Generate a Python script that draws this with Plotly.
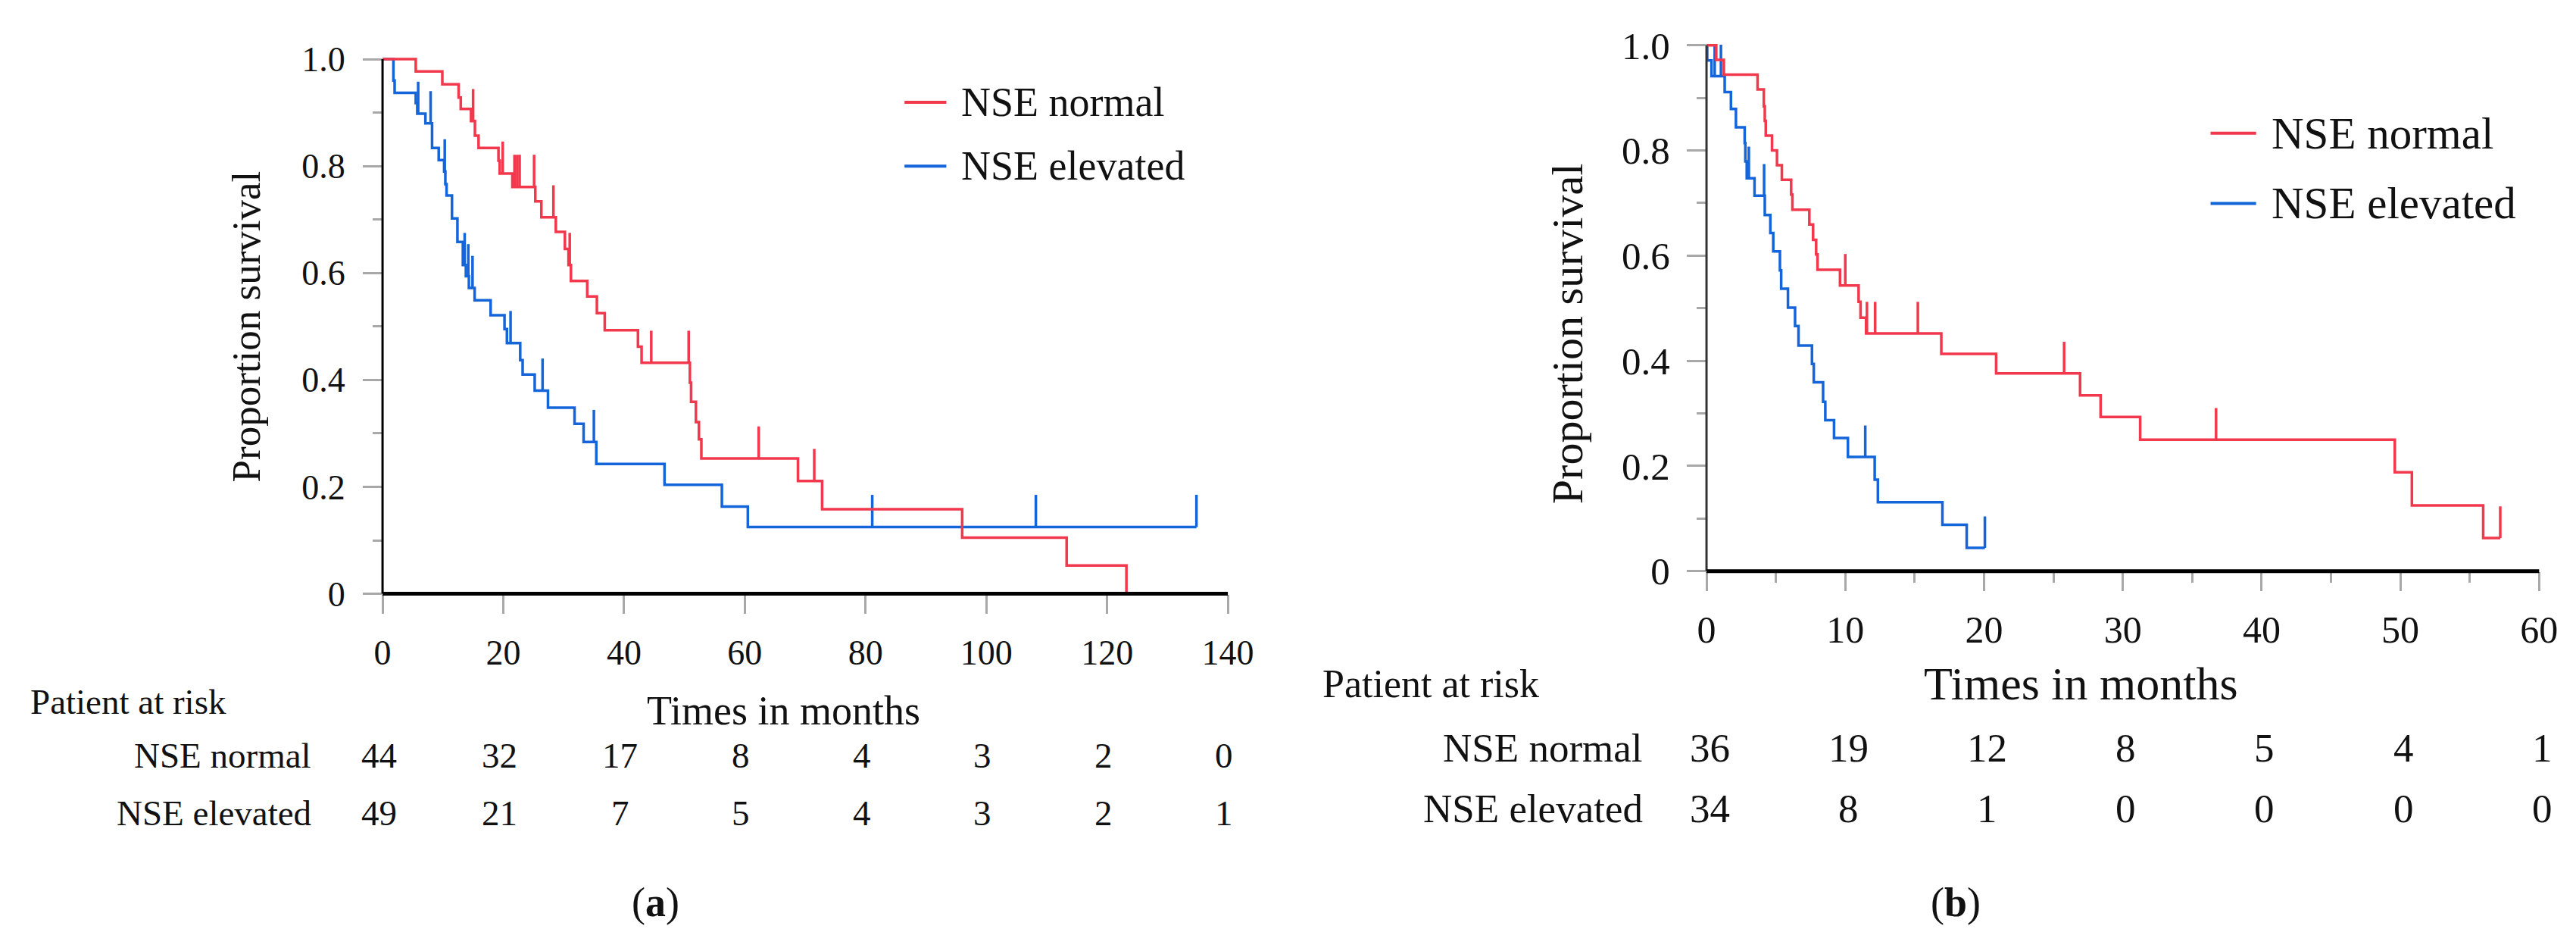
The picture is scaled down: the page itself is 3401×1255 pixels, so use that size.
import plotly.graph_objects as go

W, H = 3401, 1255
FONT = "Liberation Serif"
RED = "#F2384C"
BLUE = "#1565DA"
TICKGREY = "#A8A8A8"

# ---------------- Panel (a) data ----------------
a_norm_times = [5.5, 9.9, 12.6, 12.95, 14.65, 15.3, 15.9, 19.2, 19.4, 21.5, 25.3, 26.3, 28.7,
                30.2, 30.8, 31.2, 33.9, 35.5, 36.8, 42.3, 42.9, 50.9, 51.1, 51.9, 52.4, 52.8,
                68.8, 72.8, 96.0, 113.3, 123.2]
a_norm_surv = [0.977, 0.953, 0.928, 0.907, 0.884, 0.857, 0.834, 0.81, 0.786, 0.761, 0.734, 0.704, 0.677,
               0.645, 0.615, 0.585, 0.556, 0.525, 0.493, 0.462, 0.432, 0.395, 0.359, 0.321, 0.289, 0.253,
               0.211, 0.158, 0.105, 0.053, 0.0]
a_norm_censor = [15.0, 19.9, 21.85, 22.3, 22.7, 25.1, 28.3, 31.0, 44.5, 50.7, 62.3, 71.5]
a_norm_end = 123.2

a_elev_times = [1.8, 2.0, 5.5, 5.75, 7.1, 8.2, 9.3, 10.2, 10.4, 10.6, 11.5, 12.4, 13.3, 13.8, 14.3,
                15.25, 17.9, 20.2, 20.6, 22.8, 23.2, 25.2, 27.4, 31.8, 33.3, 35.4, 46.7, 56.2, 60.5]
a_elev_surv = [0.960, 0.937, 0.918, 0.898, 0.880, 0.834, 0.811, 0.790, 0.766, 0.745, 0.702, 0.658, 0.615,
               0.594, 0.572, 0.549, 0.521, 0.495, 0.469, 0.437, 0.410, 0.380, 0.348, 0.318, 0.284, 0.243,
               0.204, 0.163, 0.125]
a_elev_censor = [5.9, 7.96, 10.3, 13.6, 14.2, 14.9, 21.2, 26.5, 35.0, 81.1, 108.2, 134.8]
a_elev_end = 134.8

a_risk_times = [0, 20, 40, 60, 80, 100, 120, 140]
a_risk_norm = [44, 32, 17, 8, 4, 3, 2, 0]
a_risk_elev = [49, 21, 7, 5, 4, 3, 2, 1]
a_xticks = [0, 20, 40, 60, 80, 100, 120, 140]

# ---------------- Panel (b) data ----------------
b_norm_times = [0.7, 1.25, 3.68, 4.13, 4.2, 4.27, 4.72, 5.08, 5.43, 6.1, 6.19, 7.41, 7.68, 7.9, 8.0,
                9.62, 10.96, 11.1, 11.5, 16.92, 20.87, 26.92, 28.4, 31.25, 49.6, 50.83, 55.97]
b_norm_surv = [0.972, 0.944, 0.916, 0.884, 0.856, 0.828, 0.800, 0.772, 0.744, 0.716, 0.687, 0.659, 0.630,
               0.602, 0.573, 0.543, 0.512, 0.482, 0.452, 0.413, 0.376, 0.334, 0.293, 0.250, 0.188, 0.125,
               0.063]
b_norm_censor = [10.0, 11.56, 12.15, 15.23, 25.77, 36.72, 57.2]
b_norm_end = 57.2

b_elev_times = [0.05, 0.36, 1.31, 1.76, 2.12, 2.75, 2.8, 2.9, 3.46, 4.2, 4.6, 4.81, 5.29, 5.38, 5.87,
                6.38, 6.63, 7.60, 7.73, 8.40, 8.56, 9.19, 10.19, 12.12, 12.35, 17.0, 18.75]
b_elev_surv = [0.971, 0.941, 0.911, 0.879, 0.844, 0.814, 0.779, 0.747, 0.714, 0.677, 0.643, 0.608, 0.572,
               0.537, 0.501, 0.466, 0.429, 0.394, 0.359, 0.322, 0.287, 0.253, 0.217, 0.174, 0.131, 0.088,
               0.044]
b_elev_censor = [0.59, 1.04, 3.05, 4.15, 11.44, 20.06]
b_elev_end = 20.06

b_risk_times = [0, 10, 20, 30, 40, 50, 60]
b_risk_norm = [36, 19, 12, 8, 5, 4, 1]
b_risk_elev = [34, 8, 1, 0, 0, 0, 0]
b_xticks = [0, 10, 20, 30, 40, 50, 60]

y_tickvals = [0, 0.2, 0.4, 0.6, 0.8, 1.0]
y_ticktext = ["0", "0.2", "0.4", "0.6", "0.8", "1.0"]
group_names = ["NSE normal", "NSE elevated"]

CENSOR_H = 0.06


def step_xy(times, surv, end):
    x = [0] + list(times)
    y = [1.0] + list(surv)
    if end > x[-1]:
        x.append(end)
        y.append(y[-1])
    return x, y


def level_at(times, surv, t):
    s = 1.0
    for ti, si in zip(times, surv):
        if ti <= t:
            s = si
        else:
            break
    return s


def censor_xy(times, surv, ctimes):
    xs, ys = [], []
    for c in ctimes:
        s = level_at(times, surv, c)
        xs += [c, c, None]
        ys += [s, s + CENSOR_H, None]
    return xs, ys


fig = go.Figure()


def add_curves(times, surv, ctimes, end, color, xa, ya):
    x, y = step_xy(times, surv, end)
    fig.add_trace(go.Scatter(x=x, y=y, mode="lines", line=dict(color=color, width=3.5, shape="hv"),
                             xaxis=xa, yaxis=ya, showlegend=False, hoverinfo="skip"))
    cx, cy = censor_xy(times, surv, ctimes)
    fig.add_trace(go.Scatter(x=cx, y=cy, mode="lines", line=dict(color=color, width=3.5),
                             xaxis=xa, yaxis=ya, showlegend=False, hoverinfo="skip"))


add_curves(a_elev_times, a_elev_surv, a_elev_censor, a_elev_end, BLUE, "x", "y")
add_curves(a_norm_times, a_norm_surv, a_norm_censor, a_norm_end, RED, "x", "y")
add_curves(b_elev_times, b_elev_surv, b_elev_censor, b_elev_end, BLUE, "x2", "y2")
add_curves(b_norm_times, b_norm_surv, b_norm_censor, b_norm_end, RED, "x2", "y2")

YTOP = 1.02

# pixel geometry of plot areas
A_X0, A_X1, A_Y0, A_Y1 = 491, 1623, 789, 59     # x=0, x=140, y=0, y=1.0
B_X0, B_X1, B_Y0, B_Y1 = 2264, 3379, 758, 40    # x=0, x=60, y=0, y=1.0


def px(x):
    return x / W


def py(y):
    return 1 - y / H


def ydom(y0, y1):
    top = y0 - (y0 - y1) * YTOP
    return [py(y0), py(top)]


def xaxis_cfg(dom, rng, ticks, size, minor=None, standoff=10):
    d = dict(domain=dom, range=rng, tickmode="array", tickvals=ticks, ticks="outside",
             ticklen=25, tickwidth=3, tickcolor=TICKGREY, showgrid=False, zeroline=False,
             showline=False, tickfont=dict(family=FONT, size=size, color="#111"),
             ticklabelstandoff=standoff, fixedrange=True)
    if minor:
        d["minor"] = minor
    return d


def yaxis_cfg(dom, anchor, size, standoff):
    return dict(domain=dom, range=[0, YTOP], anchor=anchor, tickmode="array", tickvals=y_tickvals,
                ticktext=y_ticktext, ticks="outside", ticklen=25, tickwidth=3, tickcolor=TICKGREY,
                minor=dict(dtick=0.1, ticks="outside", ticklen=12, tickwidth=3, tickcolor=TICKGREY),
                showgrid=False, zeroline=False, showline=False,
                tickfont=dict(family=FONT, size=size, color="#111"), ticklabelstandoff=standoff,
                fixedrange=True)


fig.update_layout(
    width=W, height=H, margin=dict(l=0, r=0, t=0, b=0),
    paper_bgcolor="white", plot_bgcolor="white", showlegend=False,
    xaxis=dict(anchor="y", **xaxis_cfg([px(A_X0), px(A_X1)], [0, 140], a_xticks, 46, standoff=12)),
    yaxis=yaxis_cfg(ydom(A_Y0, A_Y1), "x", 46, 14),
    xaxis2=dict(anchor="y2", **xaxis_cfg([px(B_X0), px(B_X1)], [0, 60], b_xticks, 50,
                                         minor=dict(dtick=5, ticks="outside", ticklen=14, tickwidth=3,
                                                    tickcolor=TICKGREY), standoff=8)),
    yaxis2=yaxis_cfg(ydom(B_Y0, B_Y1), "x2", 51, 12),
)

# axis lines
shapes = [
    dict(type="line", xref="paper", yref="paper", x0=px(A_X0), x1=px(A_X0), y0=py(A_Y0), y1=py(A_Y1),
         line=dict(color="black", width=3), layer="above"),
    dict(type="line", xref="paper", yref="paper", x0=px(A_X0), x1=px(A_X1), y0=py(A_Y0), y1=py(A_Y0),
         line=dict(color="black", width=5), layer="above"),
    dict(type="line", xref="paper", yref="paper", x0=px(B_X0), x1=px(B_X0), y0=py(B_Y0), y1=py(B_Y1),
         line=dict(color="#333", width=3), layer="above"),
    dict(type="line", xref="paper", yref="paper", x0=px(B_X0), x1=px(B_X1), y0=py(B_Y0), y1=py(B_Y0),
         line=dict(color="black", width=5), layer="above"),
]

annotations = []


def txt(text, x, y, size, xanchor="center", xref="paper", textangle=0, xshift=0):
    annotations.append(dict(text=text, x=x, y=y, xref=xref, yref="paper", xanchor=xanchor,
                            yanchor="middle", showarrow=False, textangle=textangle, xshift=xshift,
                            font=dict(family=FONT, size=size, color="#111")))


# legends
for (lx0, lx1, tx, ys, size) in [(1190, 1246, 1264, (118, 205), 54), (2939, 3000, 3019, (160, 256), 59)]:
    for name, color, yy in zip(group_names, [RED, BLUE], ys):
        shapes.append(dict(type="line", xref="paper", yref="paper", x0=px(lx0), x1=px(lx1),
                           y0=py(yy), y1=py(yy), line=dict(color=color, width=4)))
        txt(name, px(tx), py(yy), size, xanchor="left")

# panel (a) texts
txt("Proportion survival", px(308), py(424), 53, textangle=-90)
txt("Times in months", px(1028), py(949), 54)
txt("Patient at risk", px(17), py(936), 47, xanchor="left")
txt(group_names[0], px(398), py(1010), 47, xanchor="right")
txt(group_names[1], px(398), py(1088), 47, xanchor="right")
for t, n1, n2 in zip(a_risk_times, a_risk_norm, a_risk_elev):
    txt(str(n1), t, py(1010), 47, xref="x", xshift=-5)
    txt(str(n2), t, py(1088), 47, xref="x", xshift=-5)
txt("(<b>a</b>)", px(857), py(1211), 54)

# panel (b) texts
txt("Proportion survival", px(2078), py(434), 58, textangle=-90)
txt("Times in months", px(2766), py(911), 62)
txt("Patient at risk", px(1748), py(912), 52, xanchor="left")
txt(group_names[0], px(2181), py(999), 53, xanchor="right")
txt(group_names[1], px(2181), py(1082), 53, xanchor="right")
for t, n1, n2 in zip(b_risk_times, b_risk_norm, b_risk_elev):
    txt(str(n1), t, py(999), 53, xref="x2", xshift=4)
    txt(str(n2), t, py(1082), 53, xref="x2", xshift=4)
txt("(<b>b</b>)", px(2598), py(1210), 54)

fig.update_layout(shapes=shapes, annotations=annotations)
fig.write_html("out.html")
